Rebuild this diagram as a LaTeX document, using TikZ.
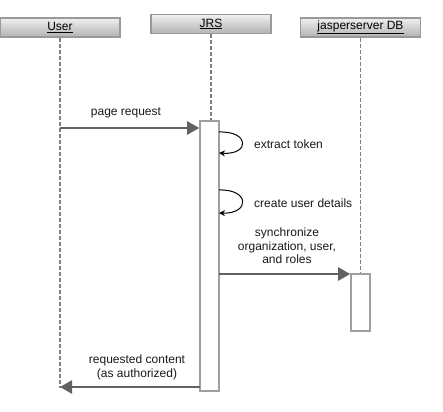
\documentclass[tikz,border=0pt]{standalone}
\usepackage{fontspec}
\setmainfont{Liberation Sans}
\usepackage{tikz}
\usetikzlibrary{shapes,arrows,arrows.meta,positioning,calc}

\begin{document}
\begin{tikzpicture}[x=1pt,y=-1pt]
% Styles

   \tikzstyle{actor} = [draw=gray!80, line width=1.4pt, shape=rectangle, top color=gray!12, bottom color=gray!60, minimum width=120pt, minimum height=19pt, inner sep=0pt, font=\fontsize{12}{14}\selectfont]
   \tikzstyle{act} = [draw=gray!75, line width=1.6pt, shape=rectangle, fill=white, minimum width=19pt, inner sep=0pt]
   \tikzstyle{life} = [gray, line width=1.3pt, dash pattern=on 4pt off 2pt]
   \tikzstyle{msg} = [draw=black!62, line width=2.4pt, -{Triangle[length=12pt,width=13pt]}]
   \tikzstyle{self} = [draw=black, line width=1pt, -{Stealth[length=6pt,width=6pt]}]
   \tikzstyle{lbl} = [font=\fontsize{12}{13.5}\selectfont, text=black!90, align=center, inner sep=0pt]

\useasboundingbox (0,0) rectangle (443,411);

% Heads
\node[actor] (user) at (60,27.5) {\underline{User}};
\node[actor] (jrs) at (211,24) {\underline{JRS}};
\node[actor] (db) at (360.5,27.5) {\underline{jasperserver DB}};

% Activations
\node[act, minimum height=270pt] (jrsact) at (209.5,256) {};
\node[act, minimum height=57pt] (dbact) at (360.5,302.5) {};

% Lifelines
\coordinate (userend) at (60,388);
\draw[life] (user.south) -- (userend);
\draw[life] (jrs.south) -- (jrs.south |- jrsact.north);
\draw[life] (db.south) -- (db.south |- dbact.north);

% Messages
\coordinate (req) at (60,128);
\draw[msg] (req) -- (req -| jrsact.west);
\node[lbl] (reqlbl) at (126,113) {page request};

\coordinate (tok) at (219,132);
\draw[self] (tok) .. controls (250,131) and (250,155) .. ($(tok)+(0,21)$);
\node[lbl, anchor=west] (toklbl) at (254,144) {extract token};

\coordinate (det) at (219,190);
\draw[self] (det) .. controls (250,189) and (250,214) .. ($(det)+(0,23)$);
\node[lbl, anchor=west] (detlbl) at (254,203) {create user details};

\coordinate (sync) at (219,274);
\draw[msg] (sync) -- (sync -| dbact.west);
\node[lbl] (synclbl) at (287,246) {synchronize\\organization, user,\\and roles};

\coordinate (back) at (200,387);
\draw[msg] (back) -- (back -| userend);
\node[lbl] (backlbl) at (137,367.5) {requested content\\(as authorized)};
\end{tikzpicture}
\end{document}
